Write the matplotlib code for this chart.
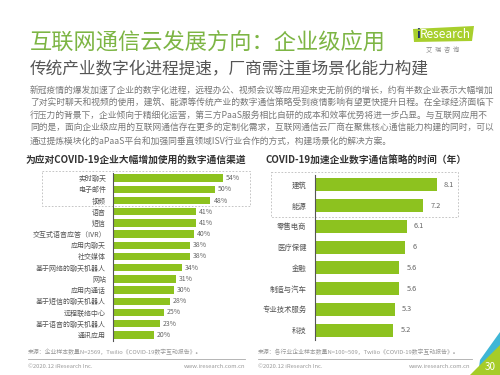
import matplotlib
matplotlib.use('Agg')
import matplotlib.pyplot as plt
import matplotlib.patches as patches

plt.rcParams['font.family'] = ['Noto Sans CJK SC', 'DejaVu Sans']

# дані лівої діаграми
left_title = '为应对COVID-19企业大幅增加使用的数字通信渠道'
left_cats = ['实时聊天', '电子邮件', '视频', '语音', '短信', '交互式语音应答（IVR）',
             '应用内聊天', '社交媒体', '基于网络的聊天机器人', '网站', '应用内通话',
             '基于短信的聊天机器人', '远程联络中心', '基于语音的聊天机器人', '通讯应用']
left_vals = [54, 50, 48, 41, 41, 40, 38, 38, 34, 31, 30, 28, 25, 23, 20]

# дані правої діаграми
right_title = 'COVID-19加速企业数字通信策略的时间（年）'
right_cats = ['建筑', '能源', '零售电商', '医疗保健', '金融', '制造与汽车', '专业技术服务', '科技']
right_vals = [8.1, 7.2, 6.1, 6, 5.6, 5.6, 5.3, 5.2]

title = '互联网通信云发展方向：企业级应用'
subtitle = '传统产业数字化进程提速，厂商需注重场景化能力构建'
paragraph = [
    '新冠疫情的爆发加速了企业的数字化进程，远程办公、视频会议等应用迎来史无前例的增长，约有半数企业表示大幅增加',
    '了对实时聊天和视频的使用，建筑、能源等传统产业的数字通信策略受到疫情影响有望更快提升日程。在全球经济面临下',
    '行压力的背景下，企业倾向于精细化运营，第三方PaaS服务相比自研的成本和效率优势将进一步凸显。与互联网应用不',
    '同的是，面向企业级应用的互联网通信存在更多的定制化需求，互联网通信云厂商在聚焦核心通信能力构建的同时，可以',
    '通过提炼模块化的aPaaS平台和加强同垂直领域ISV行业合作的方式，构建场景化的解决方案。',
]
left_source = '来源：企业样本数量N=2569，Twilio《COVID-19数字互动报告》。'
right_source = '来源：各行业企业样本数量N=100~509，Twilio《COVID-19数字互动报告》。'

W, H = 500, 375
GREEN = '#8dc21f'
TITLE_GREEN = '#7db544'
fig = plt.figure(figsize=(5, 3.75), dpi=100)
fig.patch.set_facecolor('white')

bg = fig.add_axes([0, 0, 1, 1])
bg.set_xlim(0, W)
bg.set_ylim(H, 0)
bg.axis('off')


def px_axes(x0, y0, x1, y1):
    a = fig.add_axes([x0 / W, 1 - y1 / H, (x1 - x0) / W, (y1 - y0) / H])
    a.set_facecolor('none')
    return a


# заголовки
bg.text(30, 42, title, fontsize=16, color=TITLE_GREEN, va='center')
bg.text(30, 70, subtitle, fontsize=12, color='#555555', va='center')
for i, line in enumerate(paragraph):
    bg.text(30, 90 + i * 12.8, line, fontsize=6.3, color='#777777', va='center')

# логотип
logo = patches.Polygon([(413, 29), (474, 26), (472, 41), (414, 42)], closed=True,
                       facecolor='#a8cf2d', edgecolor='none')
bg.add_patch(logo)
bg.text(416, 35, 'i', fontsize=9, color='#1d3366', va='center', fontweight='bold')
bg.text(420, 35, 'Research', fontsize=8.5, color='white', va='center')
bg.text(443, 50, '艾  瑞  咨  询', fontsize=4.5, color='#888888', va='center', ha='center')

# заголовки діаграм
bg.text(25, 160, left_title, fontsize=7, color='#333333', va='center', fontweight='bold')
bg.text(265, 161, right_title, fontsize=7, color='#333333', va='center', fontweight='bold')

# пунктирні рамки
bg.add_patch(patches.Rectangle((42, 171), 208, 35, fill=False, edgecolor='#bbbbbb',
                               linestyle=(0, (2, 2)), linewidth=0.6))
bg.add_patch(patches.Rectangle((271, 172), 187, 45, fill=False, edgecolor='#bbbbbb',
                               linestyle=(0, (2, 2)), linewidth=0.6))

# ліва діаграма
axl = px_axes(113, 172.5, 250, 340.5)
yl = list(range(len(left_cats)))
axl.barh(yl, left_vals, height=0.66, color=GREEN)
axl.set_xlim(0, 137 / 2.03)
axl.set_ylim(len(left_cats) - 0.5, -0.5)
axl.set_yticks(yl)
axl.set_yticklabels(left_cats, fontsize=5, color='#555555')
axl.tick_params(axis='y', length=0, pad=5)
axl.set_xticks([])
for s in ['top', 'right', 'bottom']:
    axl.spines[s].set_visible(False)
axl.spines['left'].set_color('#555555')
axl.spines['left'].set_linewidth(0.8)
for y, v in zip(yl, left_vals):
    axl.text(v + 1.5, y, f'{v}%', fontsize=5, color='#666666', va='center')

# права діаграма
axr = px_axes(315, 174.6, 470, 340.4)
yr = list(range(len(right_cats)))
axr.barh(yr, right_vals, height=0.63, color=GREEN)
axr.set_xlim(0, 155 / 15.0)
axr.set_ylim(len(right_cats) - 0.5, -0.5)
axr.set_yticks(yr)
axr.set_yticklabels(right_cats, fontsize=5.3, color='#555555')
axr.tick_params(axis='y', length=0, pad=6)
axr.set_xticks([])
for s in ['top', 'right', 'bottom']:
    axr.spines[s].set_visible(False)
axr.spines['left'].set_color('#555555')
axr.spines['left'].set_linewidth(0.8)
for y, v in zip(yr, right_vals):
    axr.text(v + 0.5, y, f'{v:g}', fontsize=5.3, color='#666666', va='center')

# нижній колонтитул
bg.text(28, 352, left_source, fontsize=4.2, color='#999999', va='center')
bg.text(258, 352, right_source, fontsize=4.2, color='#999999', va='center')
bg.plot([28, 245], [359, 359], color='#aaaaaa', lw=0.6)
bg.plot([258, 472], [359, 359], color='#aaaaaa', lw=0.6)
bg.text(28, 367, '©2020.12 iResearch Inc.', fontsize=4.2, color='#999999', va='center')
bg.text(245, 367, 'www.iresearch.com.cn', fontsize=4.2, color='#999999', va='center', ha='right')
bg.text(258, 367, '©2020.12 iResearch Inc.', fontsize=4.2, color='#999999', va='center')
bg.text(470, 367, 'www.iresearch.com.cn', fontsize=4.2, color='#999999', va='center', ha='right')

# кутовий декор і номер сторінки
bg.add_patch(patches.Polygon([(480, 360), (500, 332), (500, 352), (488, 375), (478, 375)],
                             closed=True, facecolor='#3fb6d6', edgecolor='none'))
bg.add_patch(patches.Polygon([(470, 375), (500, 345), (500, 375)], closed=True,
                             facecolor='#a6cc28', edgecolor='none'))
bg.text(490, 367, '30', fontsize=7, color='white', va='center', ha='center')

fig.savefig('out.png', dpi=100)
